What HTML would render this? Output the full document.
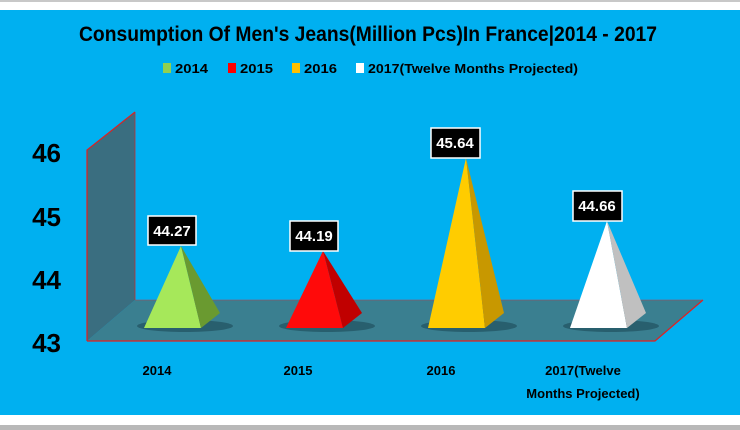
<!DOCTYPE html>
<html><head><meta charset="utf-8"><style>
html,body{margin:0;padding:0;background:#fff;}
svg{display:block;font-family:"Liberation Sans",sans-serif;font-weight:bold;}
</style></head><body>
<svg width="740" height="430" viewBox="0 0 740 430" xmlns="http://www.w3.org/2000/svg">
<rect x="0" y="0" width="740" height="430" fill="#fff"/>
<rect x="0" y="0" width="740" height="2" fill="#c8c8c8"/>
<rect x="0" y="10" width="740" height="405" fill="#00b0f0"/>
<rect x="0" y="425" width="740" height="5" fill="#b8b8b8"/>
<text x="368" y="41" font-size="21" text-anchor="middle" textLength="578" lengthAdjust="spacingAndGlyphs" fill="#000">Consumption Of Men's Jeans(Million Pcs)In France|2014 - 2017</text>
<g font-size="13">
<rect x="163" y="63" width="8" height="10" fill="#92d050"/><text x="175" y="73" textLength="33" lengthAdjust="spacingAndGlyphs">2014</text>
<rect x="228" y="63" width="8" height="10" fill="#ff0000"/><text x="240" y="73" textLength="33" lengthAdjust="spacingAndGlyphs">2015</text>
<rect x="292" y="63" width="8" height="10" fill="#ffc000"/><text x="304" y="73" textLength="33" lengthAdjust="spacingAndGlyphs">2016</text>
<rect x="356" y="63" width="8" height="10" fill="#fff"/><text x="368" y="73" textLength="210" lengthAdjust="spacingAndGlyphs">2017(Twelve Months Projected)</text>
</g>
<!-- wall -->
<polygon points="87,150 135,112 135,300 87,341" fill="#3a6e80"/>
<polyline points="87,341 87,150 135,112" fill="none" stroke="#e02020" stroke-width="1.2"/>
<line x1="135" y1="112" x2="135" y2="300" stroke="#c03030" stroke-width="0.8"/>
<!-- floor -->
<polygon points="87,341 135,300 703,300 655,341" fill="#3a7f90"/>
<polyline points="87,341 655,341 703,300" fill="none" stroke="#e02020" stroke-width="1.2"/>
<line x1="135" y1="300" x2="703" y2="300" stroke="#b04050" stroke-width="0.6"/>
<!-- y labels -->
<g font-size="26" fill="#000" text-anchor="end">
<text x="61" y="162">46</text><text x="61" y="226">45</text><text x="61" y="289">44</text><text x="61" y="352">43</text>
</g>
<!-- pyramids -->
<g>
<ellipse cx="185" cy="326" rx="48" ry="6" fill="#1d4a58" opacity="0.6"/>
<polygon points="144,328 201,328 181,246" fill="#a6e85a"/>
<polygon points="201,328 220,313 181,246" fill="#6a9a30"/>
<ellipse cx="327" cy="326" rx="48" ry="6" fill="#1d4a58" opacity="0.6"/>
<polygon points="286,328 343,328 323,251" fill="#ff0a0a"/>
<polygon points="343,328 362,313 323,251" fill="#c00000"/>
<ellipse cx="469" cy="326" rx="48" ry="6" fill="#1d4a58" opacity="0.6"/>
<polygon points="428,328 485,328 466,158" fill="#ffcc00"/>
<polygon points="485,328 504,313 466,158" fill="#c89800"/>
<ellipse cx="611" cy="326" rx="48" ry="6" fill="#1d4a58" opacity="0.6"/>
<polygon points="570,328 627,328 607,221" fill="#ffffff"/>
<polygon points="627,328 646,313 607,221" fill="#c0c0c0"/>
</g>
<!-- value labels -->
<g font-size="15" fill="#fff" text-anchor="middle">
<rect x="148" y="216" width="48" height="29" fill="#000" stroke="#fff" stroke-width="1.5"/><text x="172" y="236">44.27</text>
<rect x="290" y="221" width="48" height="30" fill="#000" stroke="#fff" stroke-width="1.5"/><text x="314" y="241">44.19</text>
<rect x="431" y="128" width="49" height="30" fill="#000" stroke="#fff" stroke-width="1.5"/><text x="455" y="148">45.64</text>
<rect x="573" y="191" width="49" height="30" fill="#000" stroke="#fff" stroke-width="1.5"/><text x="597" y="211">44.66</text>
</g>
<!-- categories -->
<g font-size="13" fill="#000" text-anchor="middle">
<text x="157" y="375">2014</text>
<text x="298" y="375">2015</text>
<text x="441" y="375">2016</text>
<text x="583" y="375">2017(Twelve</text>
<text x="583" y="398">Months Projected)</text>
</g>
</svg>
</body></html>
